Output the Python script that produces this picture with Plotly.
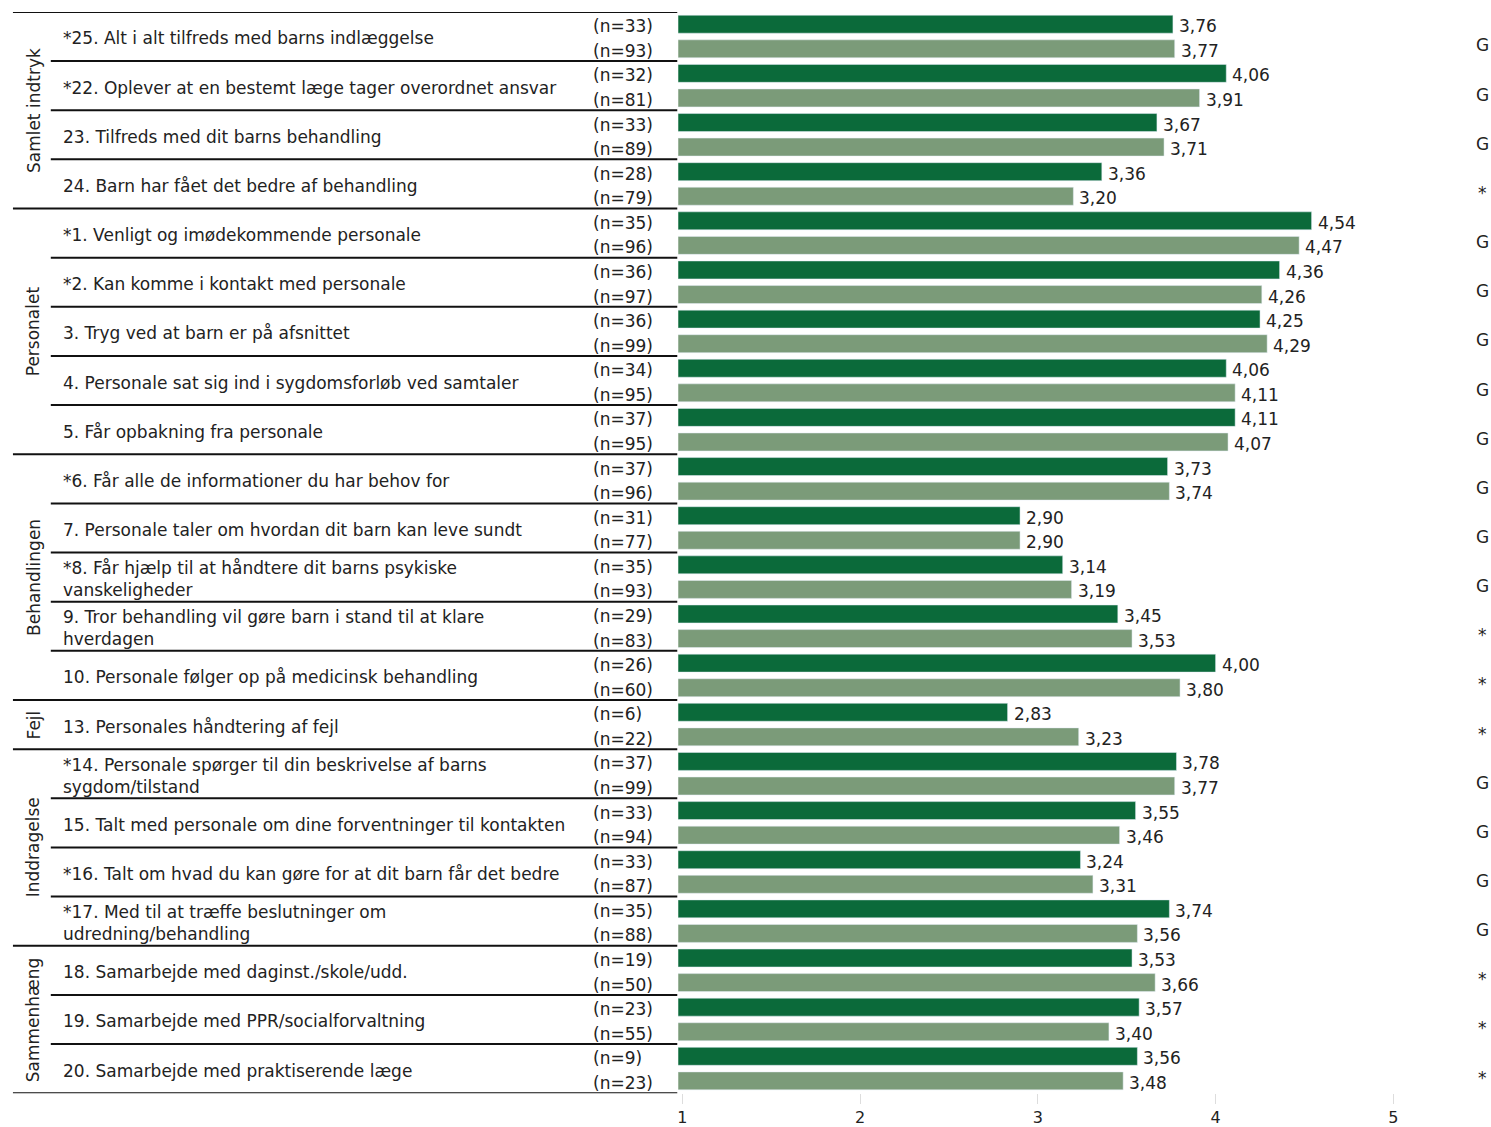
import plotly.graph_objects as go

# ---------------- data ----------------
questions = [
    "*25. Alt i alt tilfreds med barns indlæggelse",
    "*22. Oplever at en bestemt læge tager overordnet ansvar",
    "23. Tilfreds med dit barns behandling",
    "24. Barn har fået det bedre af behandling",
    "*1. Venligt og imødekommende personale",
    "*2. Kan komme i kontakt med personale",
    "3. Tryg ved at barn er på afsnittet",
    "4. Personale sat sig ind i sygdomsforløb ved samtaler",
    "5. Får opbakning fra personale",
    "*6. Får alle de informationer du har behov for",
    "7. Personale taler om hvordan dit barn kan leve sundt",
    "*8. Får hjælp til at håndtere dit barns psykiske<br>vanskeligheder",
    "9. Tror behandling vil gøre barn i stand til at klare<br>hverdagen",
    "10. Personale følger op på medicinsk behandling",
    "13. Personales håndtering af fejl",
    "*14. Personale spørger til din beskrivelse af barns<br>sygdom/tilstand",
    "15. Talt med personale om dine forventninger til kontakten",
    "*16. Talt om hvad du kan gøre for at dit barn får det bedre",
    "*17. Med til at træffe beslutninger om<br>udredning/behandling",
    "18. Samarbejde med daginst./skole/udd.",
    "19. Samarbejde med PPR/socialforvaltning",
    "20. Samarbejde med praktiserende læge",
]
groups = (["Samlet indtryk"] * 4 + ["Personalet"] * 5 + ["Behandlingen"] * 5
          + ["Fejl"] * 1 + ["Inddragelse"] * 4 + ["Sammenhæng"] * 3)
n_unit = [33, 32, 33, 28, 35, 36, 36, 34, 37, 37, 31, 35, 29, 26, 6, 37, 33, 33, 35, 19, 23, 9]
n_all = [93, 81, 89, 79, 96, 97, 99, 95, 95, 96, 77, 93, 83, 60, 22, 99, 94, 87, 88, 50, 55, 23]
val_unit = [3.76, 4.06, 3.67, 3.36, 4.54, 4.36, 4.25, 4.06, 4.11, 3.73, 2.90, 3.14, 3.45, 4.00,
            2.83, 3.78, 3.55, 3.24, 3.74, 3.53, 3.57, 3.56]
val_all = [3.77, 3.91, 3.71, 3.20, 4.47, 4.26, 4.29, 4.11, 4.07, 3.74, 2.90, 3.19, 3.53, 3.80,
           3.23, 3.77, 3.46, 3.31, 3.56, 3.66, 3.40, 3.48]
flags = ["G", "G", "G", "*", "G", "G", "G", "G", "G", "G", "G", "G", "*", "*", "*",
         "G", "G", "G", "G", "*", "*", "*"]
tick_vals = [1, 2, 3, 4, 5]

# ---------------- style ----------------
W, H = 1491, 1127
FONT = "DejaVu Sans"
DARK = "#0b6a3a"
LIGHT = "#7b9b79"
TXT = "#222222"
FS = 17
YS = -2  # small vertical nudge for text


def fmt(v):
    return f"{v:.2f}".replace(".", ",")


nq = len(questions)
y_unit = [2 * i + 0.5 for i in range(nq)]
y_all = [2 * i + 1.5 for i in range(nq)]
y_mid = [2 * i + 1 for i in range(nq)]

fig = go.Figure()
fig.add_bar(y=y_unit, x=val_unit, orientation="h", marker_color=DARK, width=0.73,
            showlegend=False, name="Afsnit")
fig.add_bar(y=y_all, x=val_all, orientation="h", marker_color=LIGHT, width=0.73,
            showlegend=False, name="Alle")

ann = []
for i in range(nq):
    ann.append(dict(x=60 / W, xref="paper", y=y_mid[i], yref="y", text=questions[i],
                    xanchor="left", yanchor="middle", align="left", showarrow=False, yshift=YS,
                    font=dict(family=FONT, size=FS, color=TXT)))
    ann.append(dict(x=592 / W, xref="paper", y=y_unit[i], yref="y", text=f"(n={n_unit[i]})",
                    xanchor="left", yanchor="middle", showarrow=False, yshift=YS,
                    font=dict(family=FONT, size=FS, color=TXT)))
    ann.append(dict(x=592 / W, xref="paper", y=y_all[i], yref="y", text=f"(n={n_all[i]})",
                    xanchor="left", yanchor="middle", showarrow=False, yshift=YS,
                    font=dict(family=FONT, size=FS, color=TXT)))
    ann.append(dict(x=val_unit[i], xref="x", y=y_unit[i], yref="y", text=fmt(val_unit[i]),
                    xanchor="left", yanchor="middle", showarrow=False, xshift=4, yshift=YS,
                    font=dict(family=FONT, size=FS, color=TXT)))
    ann.append(dict(x=val_all[i], xref="x", y=y_all[i], yref="y", text=fmt(val_all[i]),
                    xanchor="left", yanchor="middle", showarrow=False, xshift=4, yshift=YS,
                    font=dict(family=FONT, size=FS, color=TXT)))
    ann.append(dict(x=1487 / W, xref="paper", y=y_mid[i], yref="y", text=flags[i],
                    xanchor="center", yanchor="middle", showarrow=False, yshift=-7 + YS,
                    font=dict(family=FONT, size=FS, color=TXT)))

shapes = [dict(type="line", xref="paper", yref="y", x0=12 / W, x1=679 / W, y0=0, y1=0,
               line=dict(color="#111111", width=2))]
start = 0
for i in range(1, nq + 1):
    boundary = (i == nq) or (groups[i] != groups[i - 1])
    shapes.append(dict(type="line", xref="paper", yref="y",
                       x0=(12 if boundary else 50) / W, x1=679 / W, y0=2 * i, y1=2 * i,
                       line=dict(color="#111111", width=2)))
    if boundary:
        ann.append(dict(x=33 / W, xref="paper", y=(2 * start + 2 * i) / 2, yref="y",
                        text=groups[i - 1], textangle=-90, showarrow=False,
                        xanchor="center", yanchor="middle",
                        font=dict(family=FONT, size=FS, color=TXT)))
        start = i

fig.update_layout(
    width=W, height=H,
    margin=dict(l=0, r=0, t=0, b=0),
    paper_bgcolor="white", plot_bgcolor="white",
    barmode="overlay",
    annotations=ann, shapes=shapes,
    xaxis=dict(domain=[680 / W, 1398 / W], range=[0.9775, 5], tickvals=tick_vals,
               ticktext=[str(t) for t in tick_vals], ticks="outside", ticklen=10,
               tickcolor="#dddddd", tickwidth=1, showgrid=False, zeroline=False,
               showline=False, tickfont=dict(family=FONT, size=16, color=TXT)),
    yaxis=dict(domain=[27 / H, 1 - 12 / H], range=[2 * nq, 0], visible=False),
)

fig.write_html("out.html", config={"displayModeBar": False},
               post_script="document.body.style.margin='0';document.body.style.overflow='hidden';")
